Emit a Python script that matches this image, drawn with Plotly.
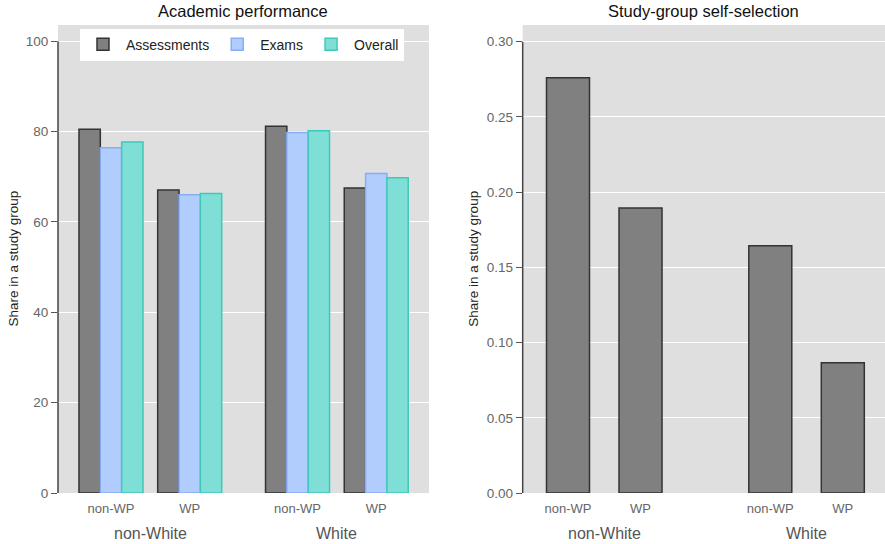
import plotly.graph_objects as go

# ---- data ----
ethnic_groups = ["non-White", "White"]
wp_groups = ["non-WP", "WP"]
series_names = ["Assessments", "Exams", "Overall"]
assessments = [80.5, 67.1, 81.2, 67.5]
exams = [76.4, 66.0, 79.8, 70.7]
overall = [77.7, 66.3, 80.2, 69.8]
selection = [0.276, 0.1895, 0.1643, 0.0865]
left_yticks = [0, 20, 40, 60, 80, 100]
right_yticks = [0.0, 0.05, 0.10, 0.15, 0.20, 0.25, 0.30]
y_title = "Share in a study group"

# ---- styling ----
FONT = "Liberation Sans, Arial, sans-serif"
fills = ["#808080", "#b0cdfd", "#7fdfd6"]
lines = ["#333333", "#89adf5", "#3ec9b9"]
BG = "#dfdfdf"
STEP_L = 2.37
STEP_R = 2.79


def positions(step):
    return [g * step + s for g in range(len(ethnic_groups)) for s in range(len(wp_groups))]


pos_l = positions(STEP_L)
pos_r = positions(STEP_R)
sub_labels = [w for _ in ethnic_groups for w in wp_groups]

fig = go.Figure()
bw = 0.271
for i, (name, vals) in enumerate(zip(series_names, [assessments, exams, overall])):
    fig.add_trace(go.Bar(
        x=pos_l, y=vals, name=name, width=bw, offset=-1.5 * bw + i * bw,
        marker=dict(color=fills[i], line=dict(color=lines[i], width=1.5)),
        xaxis="x", yaxis="y", hoverinfo="y",
    ))

fig.add_trace(go.Bar(
    x=pos_r, y=selection, name="selection", width=0.593, offset=-0.2965,
    marker=dict(color=fills[0], line=dict(color=lines[0], width=1.5)),
    xaxis="x2", yaxis="y2", showlegend=False, hoverinfo="y",
))

tickfont = dict(family=FONT, size=13, color="#666666")
common_x = dict(showgrid=False, zeroline=False, showline=False, ticks="",
                tickfont=tickfont, tickmode="array", ticktext=sub_labels,
                ticklabelstandoff=6)
common_y = dict(gridcolor="#ffffff", gridwidth=1, zeroline=False, showline=False,
                ticks="outside", ticklen=6, tickcolor="#555555", tickwidth=1,
                tickfont=dict(family=FONT, size=13.5, color="#666666"),
                tickmode="array")

fig.update_layout(
    width=885, height=544,
    margin=dict(l=58, r=0, t=25, b=51),
    paper_bgcolor="white", plot_bgcolor=BG,
    barmode="overlay",
    font=dict(family=FONT),
    xaxis=dict(domain=[0, 0.4486], range=[-0.673, 4.04], tickvals=pos_l, **common_x),
    xaxis2=dict(domain=[0.5619, 1], range=[-0.625, 4.372], tickvals=pos_r, anchor="y2", **common_x),
    yaxis=dict(range=[0, 103.6], tickvals=left_yticks, **common_y),
    yaxis2=dict(range=[0, 0.3111], tickvals=right_yticks, tickformat=".2f", anchor="x2", **common_y),
    legend=dict(orientation="h", x=0.0266, y=0.992, xanchor="left", yanchor="top",
                bgcolor="white", font=dict(family=FONT, size=14, color="#222222"),
                itemwidth=36, tracegroupgap=0),
    showlegend=True,
)

annotations = []
# subplot titles
annotations.append(dict(text="Academic performance", xref="x domain", yref="paper",
                        x=0.5, y=1, yshift=3, showarrow=False, yanchor="bottom",
                        font=dict(family=FONT, size=16.5, color="#111111")))
annotations.append(dict(text="Study-group self-selection", xref="x2 domain", yref="paper",
                        x=0.5, y=1, yshift=3, showarrow=False, yanchor="bottom",
                        font=dict(family=FONT, size=16.5, color="#111111")))
# y-axis titles
for xr, shift in (("x domain", -45.5), ("x2 domain", -50)):
    annotations.append(dict(text=y_title, xref=xr, yref="paper", x=0, y=0.5, xshift=shift,
                            textangle=-90, showarrow=False, xanchor="center", yanchor="middle",
                            font=dict(family=FONT, size=13.5, color="#222222")))
# group labels
for xr, step in (("x", STEP_L), ("x2", STEP_R)):
    for g, name in enumerate(ethnic_groups):
        annotations.append(dict(text=name, xref=xr, yref="paper", x=g * step + 0.5, y=0,
                                yshift=-40, showarrow=False, yanchor="middle",
                                font=dict(family=FONT, size=16, color="#555555")))
fig.update_layout(annotations=annotations)

# y axis lines spanning the tick range only
for xr, yr, top in (("x domain", "y", left_yticks[-1]), ("x2 domain", "y2", right_yticks[-1])):
    fig.add_shape(type="line", xref=xr, yref=yr, x0=0, x1=0, y0=0, y1=top,
                  line=dict(color="#444444", width=1.5))

fig.write_html("out.html", config={"displayModeBar": False},
               post_script="document.body.style.margin='0';")
